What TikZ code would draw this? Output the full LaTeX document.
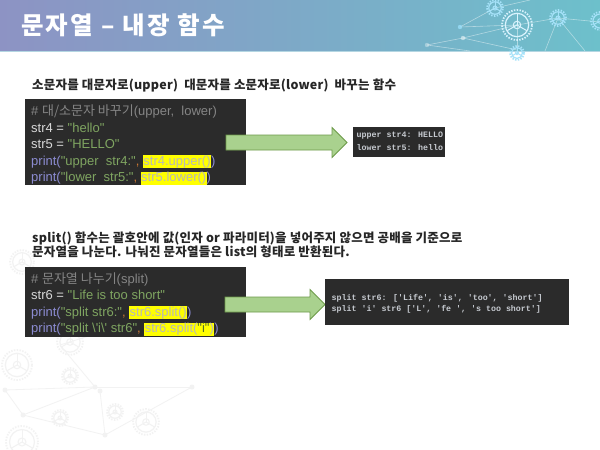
\documentclass[tikz,border=0pt]{standalone}
\usepackage{fontspec}
\setmainfont{Liberation Sans}
\newfontfamily\kr{Noto Sans CJK KR}
\newfontfamily\krwide{Noto Sans CJK KR}[LetterSpace=9]
\newfontfamily\krcap{Noto Sans CJK KR}[LetterSpace=1.8]
\newfontfamily\codefont{Liberation Sans}[Ligatures=TeXOff]
\newfontfamily\outfont{Liberation Mono}[Ligatures=TeXOff]
\usetikzlibrary{positioning}

\definecolor{hdrL}{HTML}{8D93C4}
\definecolor{hdrR}{HTML}{6DC0CB}
\definecolor{hdrline}{HTML}{B4D6E2}
\definecolor{codebg}{HTML}{2B2B2B}
\definecolor{ctext}{HTML}{D8D8D8}
\definecolor{ccomment}{HTML}{858585}
\definecolor{cstr}{HTML}{7FA561}
\definecolor{cstrdark}{HTML}{55702F}
\definecolor{cprint}{HTML}{8C8CD2}
\definecolor{ccomma}{HTML}{CC7832}
\definecolor{chl}{HTML}{FFFF00}
\definecolor{chltext}{HTML}{B8B8B8}
\definecolor{cout}{HTML}{C6CAD0}
\definecolor{capgray}{HTML}{262626}
\definecolor{arrfill}{HTML}{A9D18E}
\definecolor{arrdraw}{HTML}{6E9B4A}
\definecolor{decogray}{HTML}{F2F2F2}

% small helpers for the code lines
\newcommand{\pr}[1]{\textcolor{cprint}{#1}}
\newcommand{\st}[1]{\textcolor{cstr}{#1}}
\newcommand{\cm}{\textcolor{ccomma}{,}}
\newcommand{\hlt}[1]{{\setlength{\fboxsep}{0.4pt}\colorbox{chl}{\textcolor{chltext}{#1}}}}

% gear-like decoration
\newcommand{\gearat}[4]{%
  \draw[#4, line width=1.8pt, dash pattern=on 1.4pt off 1.4pt] (#1,#2) circle[radius=#3pt];
  \draw[#4, line width=1.2pt] (#1,#2) circle[radius=#3pt*0.78];
  \draw[#4, line width=1pt] (#1,#2) circle[radius=#3pt*0.25];
  \foreach \a in {90,210,330} \draw[#4, line width=1pt] (#1,#2) -- ++(\a:#3pt*0.75);}

% block arrow: start x, centre y, tip x
\newcommand{\blockarrow}[3]{%
  \filldraw[fill=arrfill, draw=arrdraw, line width=0.8pt, line join=miter]
    (#1,#2-7.5) -- (#3-15,#2-7.5) -- (#3-15,#2-15) -- (#3,#2)
    -- (#3-15,#2+15) -- (#3-15,#2+7.5) -- (#1,#2+7.5) -- cycle;}

\begin{document}
\begin{tikzpicture}[x=1pt,y=-1pt,
    codebox/.style={fill=codebg, draw=none, anchor=north west, inner sep=0pt},
    codeline/.style={anchor=base west, inner sep=0pt, text=ctext,
      font=\codefont\fontsize{13}{15}\selectfont},
    outline/.style={anchor=base west, inner sep=0pt, text=cout,
      font=\outfont\bfseries\fontsize{8.3}{10}\selectfont},
    caption/.style={anchor=base west, inner sep=0pt, text=capgray,
      font=\krcap\bfseries\fontsize{12.5}{14}\selectfont}]
    \useasboundingbox[fill=white] (0,0) rectangle (600,450);

    % background decoration, bottom left
    \foreach \a/\b/\c/\d in {5/390/95/387, 95/387/192/387, 95/387/23/415, 23/415/105/435,
        100/391/105/435, 95/387/60/345, 105/435/192/387, 5/390/23/415, 60/345/140/320} {
        \draw[decogray, line width=0.8pt] (\a,\b) -- (\c,\d);
    }
    \foreach \a/\b in {5/390, 95/387, 100/391, 23/415, 105/435, 192/387} {
        \fill[decogray] (\a,\b) circle (2.5pt);
    }
    \gearat{17}{365}{15}{decogray}
    \gearat{70}{342}{13}{decogray}
    \gearat{70}{376}{8}{decogray}
    \gearat{60}{418}{8}{decogray}
    \gearat{115}{412}{8}{decogray}
    \gearat{146}{422}{13}{decogray}
    \gearat{22}{442}{16}{decogray}
    \gearat{22}{262}{12}{decogray}

    % header band
    \shade[left color=hdrL, right color=hdrR] (0,0) rectangle (600,51);
    \draw[hdrline, line width=1.5pt] (0,51.5) -- (600,51.5);
    \foreach \a/\b/\c/\d in {460/27/495/8, 460/27/517/25, 463/38/517/25, 427/45/463/38,
        463/38/517/50, 517/25/558/18, 558/18/600/22, 495/8/530/0, 558/18/545/51,
        558/18/585/51, 517/25/517/51, 427/45/470/51} {
        \draw[white, opacity=0.45, line width=0.6pt] (\a,\b) -- (\c,\d);
    }
    \fill[cyan!40!white, opacity=0.8] (460,27) circle (2.2pt);
    \fill[white, opacity=0.5] (463,38) circle (2.2pt);
    \fill[white, opacity=0.35] (427,45) circle (2.2pt);
    \gearat{495}{8}{8}{cyan!35!white}
    \gearat{517}{25}{15}{white!85!cyan}
    \gearat{558}{18}{8}{cyan!35!white}
    \gearat{600}{21}{9}{cyan!35!white}
    \gearat{517}{53}{7}{cyan!35!white}

    \node[anchor=base west, inner sep=0pt, text=white,
      font=\krwide\bfseries\fontsize{24.5}{28}\selectfont] (title) at (21,34) {문자열 – 내장 함수};

    % upper / lower
    \node[caption] (capUpper) at (32,89.5)
      {소문자를 대문자로(upper)\ \ 대문자를 소문자로(lower)\ \ 바꾸는 함수};
    \node[codebox, minimum width=221pt, minimum height=86pt] (codeUpper) at (25,99) {};
    \node[codeline, text=ccomment] (cu1) at (31,115.5) {\# {\kr 대/소문자 바꾸기}(upper,\ \ lower)};
    \node[codeline] (cu2) at (31,132) {str4 = \st{"hello"}};
    \node[codeline] (cu3) at (31,148.5) {str5 = \st{"HELLO"}};
    \node[codeline] (cu4) at (31,165) {\pr{print(}\st{"upper\ \ str4:"}\cm\ \hlt{str4.upper()}\textcolor{cprint}{)}};
    \node[codeline] (cu5) at (31,181.5) {\pr{print(}\st{"lower\ \ str5:"}\cm\ \hlt{str5.lower()}\textcolor{cprint}{)}};

    \blockarrow{226}{142.5}{347}

    \node[codebox, minimum width=92pt, minimum height=30pt] (outUpper) at (353,127) {};
    \node[outline] (ou1) at (356.5,137) {upper str4: HELLO};
    \node[outline] (ou2) at (356.5,150) {lower str5: hello};

    % split
    \node[caption] (capSplit1) at (32,242.5)
      {split()\ 함수는 괄호안에 값(인자 or 파라미터)을 넣어주지 않으면 공배을 기준으로};
    \node[caption] (capSplit2) at (32,256.5)
      {문자열을 나눈다. 나눠진 문자열들은 list의 형태로 반환된다.};
    \node[codebox, minimum width=221pt, minimum height=70pt] (codeSplit) at (25,267) {};
    \node[codeline, text=ccomment] (cs1) at (31,283) {\# {\kr 문자열 나누기}(split)};
    \node[codeline] (cs2) at (31,299.5) {str6 = \st{"Life is too short"}};
    \node[codeline] (cs3) at (31,316) {\pr{print(}\st{"split str6:"}\cm\ \hlt{str6.split()}\textcolor{cprint}{)}};
    \node[codeline] (cs4) at (31,332.5) {\pr{print(}\st{"split \textbackslash'i\textbackslash' str6"}\cm\ \hlt{str6.split(\textcolor{cstrdark}{"i"})}\textcolor{cprint}{)}};

    \blockarrow{225}{304.5}{325}

    \node[codebox, minimum width=244pt, minimum height=46pt] (outSplit) at (325,279) {};
    \node[outline] (os1) at (331.5,300) {split str6: ['Life', 'is', 'too', 'short']};
    \node[outline] (os2) at (331.5,311) {split 'i' str6 ['L', 'fe ', 's too short']};
\end{tikzpicture}
\end{document}
